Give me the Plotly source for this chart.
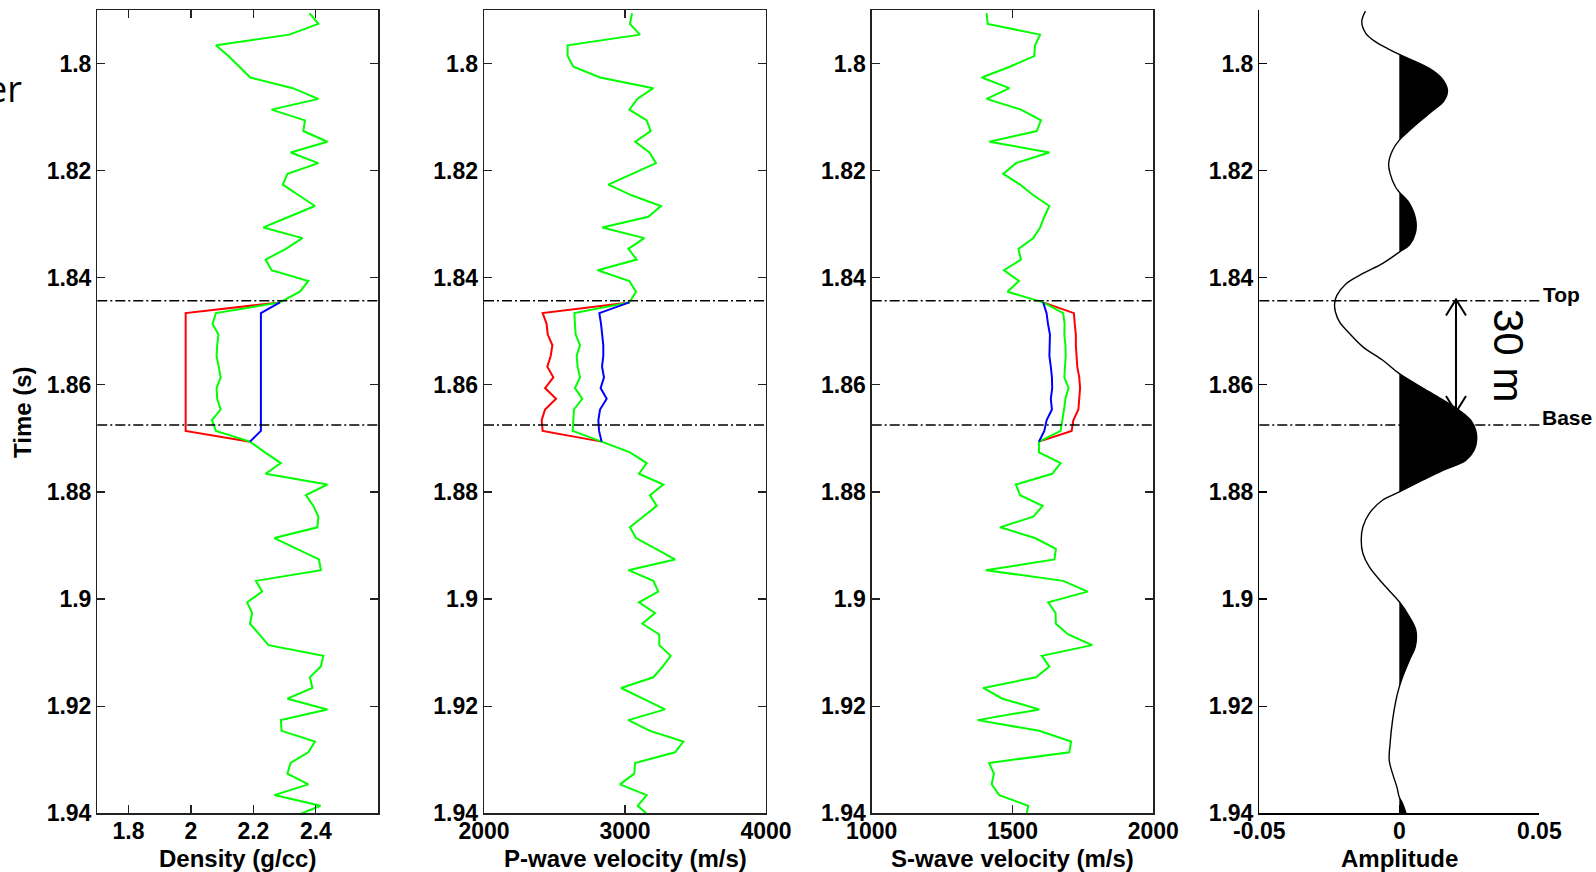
import plotly.graph_objects as go

W, H = 1596, 872

# ---------------- data ----------------
time_s = [1.7906, 1.7926, 1.7946, 1.7966, 1.7986, 1.8006, 1.8026, 1.8046, 1.8066, 1.8086,
          1.8106, 1.8126, 1.8146, 1.8166, 1.8186, 1.8206, 1.8226, 1.8246, 1.8266, 1.8286,
          1.8306, 1.8326, 1.8346, 1.8366, 1.8386, 1.8406, 1.8426, 1.8446, 1.8466, 1.8486,
          1.8506, 1.8526, 1.8546, 1.8566, 1.8586, 1.8606, 1.8626, 1.8646, 1.8666, 1.8686,
          1.8706, 1.8726, 1.8746, 1.8766, 1.8786, 1.8806, 1.8826, 1.8846, 1.8866, 1.8886,
          1.8906, 1.8926, 1.8946, 1.8966, 1.8986, 1.9006, 1.9026, 1.9046, 1.9066, 1.9086,
          1.9106, 1.9126, 1.9146, 1.9166, 1.9186, 1.9206, 1.9226, 1.9246, 1.9266, 1.9286,
          1.9306, 1.9326, 1.9346, 1.9366, 1.9386, 1.9406]

# layer occupies samples 28..39; samples 27 and 40 are the junctions
LAYER_START, LAYER_END = 27, 40

density_insitu = [2.38, 2.408, 2.315, 2.080, 2.12, 2.155, 2.19, 2.326, 2.408, 2.258,
                  2.365, 2.360, 2.437, 2.319, 2.408, 2.309, 2.294, 2.345, 2.397, 2.314,
                  2.232, 2.357, 2.304, 2.239, 2.258, 2.376, 2.349, 2.285, 2.080, 2.069,
                  2.088, 2.084, 2.082, 2.089, 2.095, 2.082, 2.084, 2.095, 2.067, 2.080,
                  2.189, 2.237, 2.288, 2.239, 2.437, 2.368, 2.392, 2.408, 2.405, 2.267,
                  2.338, 2.410, 2.416, 2.208, 2.228, 2.180, 2.196, 2.189, 2.219, 2.248,
                  2.424, 2.416, 2.381, 2.389, 2.309, 2.437, 2.288, 2.290, 2.397, 2.376,
                  2.319, 2.309, 2.376, 2.267, 2.415, 2.33]
density_red = [2.285, 1.983, 1.983, 1.983, 1.983, 1.983, 1.983, 1.983, 1.983, 1.983,
               1.983, 1.983, 1.983, 2.189]
density_blue = [2.285, 2.224, 2.224, 2.224, 2.224, 2.224, 2.224, 2.224, 2.224, 2.224,
                2.224, 2.224, 2.224, 2.189]

vp_insitu = [3050, 3035, 3106, 2593, 2593, 2634, 2823, 3201, 3087, 3031,
             3154, 3182, 3073, 3173, 3220, 3052, 2882, 3047, 3255, 3165,
             2839, 3137, 3024, 3083, 2806, 3031, 3078, 3031, 2641, 2645,
             2650, 2681, 2657, 2664, 2681, 2645, 2697, 2638, 2631, 2629,
             2834, 3035, 3154, 3099, 3272, 3177, 3225, 3130, 3035, 3078,
             3220, 3355, 3024, 3201, 3236, 3099, 3213, 3123, 3243, 3243,
             3324, 3267, 3201, 2972, 3128, 3284, 3024, 3177, 3414, 3355,
             3071, 3066, 2964, 3154, 3090, 3177]
vp_red = [3031, 2416, 2444, 2452, 2485, 2473, 2449, 2492, 2433, 2511, 2433, 2409, 2416, 2834]
vp_blue = [3031, 2818, 2830, 2839, 2846, 2846, 2837, 2851, 2827, 2870, 2823, 2811, 2816, 2834]

vs_insitu = [1408, 1412, 1598, 1580, 1577, 1490, 1391, 1489, 1408, 1530,
             1601, 1586, 1418, 1631, 1512, 1467, 1527, 1574, 1631, 1613,
             1598, 1574, 1521, 1530, 1470, 1523, 1482, 1609, 1680, 1685,
             1684, 1688, 1689, 1686, 1684, 1699, 1688, 1683, 1677, 1671,
             1594, 1594, 1671, 1641, 1512, 1527, 1607, 1574, 1456, 1580,
             1654, 1649, 1405, 1680, 1767, 1627, 1653, 1654, 1698, 1783,
             1604, 1631, 1583, 1396, 1464, 1595, 1376, 1595, 1708, 1702,
             1417, 1434, 1426, 1453, 1556, 1548]
vs_red = [1609, 1718, 1721, 1725, 1725, 1728, 1730, 1737, 1740, 1737, 1734, 1716, 1710, 1594]
vs_blue = [1609, 1621, 1626, 1633, 1632, 1631, 1636, 1640, 1641, 1636, 1640, 1621, 1613, 1594]

amp_time = [1.7902, 1.7922, 1.7944, 1.7960, 1.7972, 1.7983, 1.8009, 1.8028, 1.8050, 1.8069,
            1.8093, 1.8125, 1.8143, 1.8162, 1.8187, 1.8205, 1.8230, 1.8240, 1.8261, 1.8293,
            1.8317, 1.8339, 1.8352, 1.8373, 1.8392, 1.8411, 1.8433, 1.8448, 1.8464, 1.8483,
            1.8504, 1.8529, 1.8554, 1.8579, 1.8613, 1.8647, 1.8666, 1.8685, 1.8704, 1.8722,
            1.8741, 1.8760, 1.8778, 1.8800, 1.8815, 1.8840, 1.8865, 1.8890, 1.8915, 1.8940,
            1.8971, 1.9005, 1.9033, 1.9058, 1.9089, 1.9114, 1.9145, 1.9164, 1.9189, 1.9226,
            1.9270, 1.9301, 1.9326, 1.9352, 1.9370, 1.9382, 1.9400, 1.9415]
amplitude = [-0.0121, -0.0134, -0.0119, -0.0083, -0.0042, 0.0, 0.0107, 0.0152, 0.0172, 0.0160,
             0.0107, 0.0036, 0.0, -0.0024, -0.0038, -0.0033, -0.0014, 0.0, 0.0036, 0.0059,
             0.0057, 0.0036, 0.0, -0.0059, -0.0130, -0.0190, -0.0223, -0.0231, -0.0228, -0.0213,
             -0.0178, -0.0130, -0.0059, 0.0, 0.0107, 0.0213, 0.0255, 0.0273, 0.0276, 0.0267,
             0.0237, 0.0154, 0.0083, 0.0, -0.0059, -0.0107, -0.0130, -0.0136, -0.0130, -0.0107,
             -0.0059, 0.0, 0.0036, 0.0059, 0.0057, 0.0036, 0.0012, 0.0, -0.0012, -0.0024,
             -0.0033, -0.0036, -0.0024, -0.0008, 0.0, 0.0012, 0.0024, 0.0032]

TOP_TIME, BASE_TIME = 1.8443, 1.8675

y_tickvals = [1.8, 1.82, 1.84, 1.86, 1.88, 1.9, 1.92, 1.94]
y_ticktext = ["1.8", "1.82", "1.84", "1.86", "1.88", "1.9", "1.92", "1.94"]

panels = [
    dict(title="Density (g/cc)", rng=[1.7, 2.6], tv=[1.8, 2.0, 2.2, 2.4], tt=["1.8", "2", "2.2", "2.4"],
         dom=(97.3, 378.3)),
    dict(title="P-wave velocity (m/s)", rng=[2000, 4000], tv=[2000, 3000, 4000], tt=["2000", "3000", "4000"],
         dom=(484.0, 766.0)),
    dict(title="S-wave velocity (m/s)", rng=[1000, 2000], tv=[1000, 1500, 2000], tt=["1000", "1500", "2000"],
         dom=(871.7, 1153.3)),
    dict(title="Amplitude", rng=[-0.05, 0.05], tv=[-0.05, 0, 0.05], tt=["-0.05", "0", "0.05"],
         dom=(1259.3, 1539.3)),
]

# ---------------- helpers ----------------
def px(x):
    return x / W

def py(y):
    return 1 - y / H

FONT = "Liberation Sans"
GREEN, RED, BLUE = "#00ff00", "#ff0000", "#0000ff"

fig = go.Figure()

layer_t = time_s[LAYER_START:LAYER_END + 1]
logs = [(density_insitu, density_red, density_blue),
        (vp_insitu, vp_red, vp_blue),
        (vs_insitu, vs_red, vs_blue)]
for i, (g, r, b) in enumerate(logs):
    xa = "x" if i == 0 else f"x{i+1}"
    ya = "y" if i == 0 else f"y{i+1}"
    fig.add_trace(go.Scatter(x=r, y=layer_t, mode="lines", line=dict(color=RED, width=2),
                             xaxis=xa, yaxis=ya, showlegend=False, hoverinfo="skip"))
    fig.add_trace(go.Scatter(x=g, y=time_s, mode="lines", line=dict(color=GREEN, width=2),
                             xaxis=xa, yaxis=ya, showlegend=False, hoverinfo="skip"))
    fig.add_trace(go.Scatter(x=b, y=layer_t, mode="lines", line=dict(color=BLUE, width=2),
                             xaxis=xa, yaxis=ya, showlegend=False, hoverinfo="skip"))

# seismic trace: fill positive lobes
def add_lobe(seg):
    fig.add_trace(go.Scatter(x=[s[0] for s in seg], y=[s[1] for s in seg], mode="lines",
                             line=dict(color="black", width=0, shape="spline"),
                             fill="tozerox", fillcolor="black",
                             xaxis="x4", yaxis="y4", showlegend=False, hoverinfo="skip"))

seg = []
for a, t in zip(amplitude, amp_time):
    if a >= 0:
        seg.append((a, t))
    else:
        if len(seg) > 1:
            add_lobe(seg)
        seg = []
if len(seg) > 1:
    add_lobe(seg)
fig.add_trace(go.Scatter(x=amplitude, y=amp_time, mode="lines",
                         line=dict(color="black", width=1.4, shape="spline"),
                         xaxis="x4", yaxis="y4", showlegend=False, hoverinfo="skip"))

layout = dict(width=W, height=H, margin=dict(l=0, r=0, t=0, b=0, autoexpand=False),
              paper_bgcolor="white", plot_bgcolor="white", showlegend=False)

ydom = [py(813.3), py(10.0)]
tickfont = dict(family=FONT, size=23, color="black", weight="bold")
annotations = []
shapes = []
for i, p in enumerate(panels):
    sfx = "" if i == 0 else str(i + 1)
    boxed = i < 3
    lc = "#222222" if boxed else "black"
    layout["xaxis" + sfx] = dict(
        domain=[px(p["dom"][0]), px(p["dom"][1])], range=p["rng"], anchor="y" + sfx,
        tickvals=p["tv"], ticktext=p["tt"], ticks="inside", ticklen=8, tickcolor=lc, tickwidth=1.2,
        showline=True, linecolor=lc, linewidth=1.3, mirror="ticks" if boxed else False,
        showgrid=False, zeroline=False, tickfont=tickfont, fixedrange=True, automargin=False,
        ticklabelstandoff=-3)
    layout["yaxis" + sfx] = dict(
        domain=ydom, range=[1.94, 1.79], anchor="x" + sfx,
        tickvals=y_tickvals, ticktext=y_ticktext, ticks="inside", ticklen=8, tickcolor=lc, tickwidth=1.2,
        showline=True, linecolor=lc, linewidth=1.3, mirror="ticks" if boxed else False,
        showgrid=False, zeroline=False, tickfont=tickfont, fixedrange=True, automargin=False)
    annotations.append(dict(text=p["title"], x=px((p["dom"][0] + p["dom"][1]) / 2), y=py(858),
                            xref="paper", yref="paper", xanchor="center", yanchor="middle",
                            showarrow=False,
                            font=dict(family=FONT, size=24, color="black", weight="bold")))
    for tt in (TOP_TIME, BASE_TIME):
        shapes.append(dict(type="line", xref=f"x{sfx} domain", yref="y" + sfx, x0=0, x1=1,
                           y0=tt, y1=tt, layer="above",
                           line=dict(color="black", width=1.4, dash="10px,3px,2px,3px")))

annotations += [
    dict(text="Time (s)", x=px(23), y=py(412), xref="paper", yref="paper", textangle=-90,
         showarrow=False, xanchor="center", yanchor="middle",
         font=dict(family=FONT, size=24, color="black", weight="bold")),
    dict(text="er", x=px(24), y=py(88), xref="paper", yref="paper", showarrow=False,
         xanchor="right", yanchor="middle", font=dict(family="Open Sans", size=36, color="black")),
    dict(text="Top", x=px(1541), y=py(294), xref="paper", yref="paper", showarrow=False,
         xanchor="left", yanchor="middle", font=dict(family=FONT, size=21, color="black", weight="bold")),
    dict(text="Base", x=px(1540), y=py(418), xref="paper", yref="paper", showarrow=False,
         xanchor="left", yanchor="middle", font=dict(family=FONT, size=21, color="black", weight="bold")),
    dict(text="30 m", x=px(1508), y=py(355), xref="paper", yref="paper", showarrow=False,
         textangle=90, xanchor="center", yanchor="middle",
         font=dict(family=FONT, size=42, color="black")),
]

# double-headed arrow between Top and Base
ax_, ytop, ybot = 1456.0, 299.5, 412.0
arrow_path = (f"M {px(ax_)},{py(ytop)} L {px(ax_)},{py(ybot)} "
              f"M {px(ax_-10)},{py(ytop+16)} L {px(ax_)},{py(ytop)} L {px(ax_+10)},{py(ytop+16)} "
              f"M {px(ax_-10)},{py(ybot-16)} L {px(ax_)},{py(ybot)} L {px(ax_+10)},{py(ybot-16)}")
shapes.append(dict(type="path", xref="paper", yref="paper", path=arrow_path,
                   line=dict(color="black", width=2), layer="above"))

layout["annotations"] = annotations
layout["shapes"] = shapes
fig.update_layout(**layout)

# remove the default page margin so the figure fills the window exactly
fig.write_html("out.html",
               config={"displayModeBar": False, "staticPlot": True},
               post_script="document.body.style.margin='0';document.body.style.overflow='hidden';")
